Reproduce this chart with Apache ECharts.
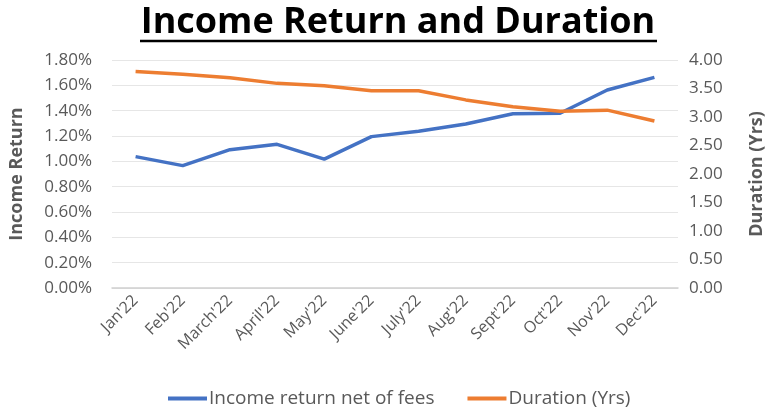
<!DOCTYPE html>
<html>
<head>
<meta charset="utf-8">
<script src="https://cdn.jsdelivr.net/npm/echarts@6/dist/echarts.min.js"></script>
<style>
    html, body { margin: 0; padding: 0; background: #fff; }
    #main { width: 774px; height: 409px; }
</style>
</head>
<body>
<div id="main"></div>
<script>
    // 数据
    var months = ["Jan'22", "Feb'22", "March'22", "April'22", "May'22", "June'22",
        "July'22", "Aug'22", "Sept'22", "Oct'22", "Nov'22", "Dec'22"];
    var incomeReturn = [1.037, 0.966, 1.092, 1.134, 1.018, 1.195, 1.237, 1.295, 1.376, 1.380, 1.563, 1.663];
    var duration = [3.80, 3.75, 3.69, 3.59, 3.55, 3.46, 3.46, 3.30, 3.18, 3.10, 3.12, 2.93];
    var leftTicks = { min: 0, max: 1.8, interval: 0.2 };
    var rightTicks = { min: 0, max: 4, interval: 0.5 };

    var font = 'Open Sans';
    var gray = '#595959';

    var myChart = echarts.init(document.getElementById('main'));
    var option = {
        backgroundColor: '#fff',
        animation: false,
        graphic: [
            {
                type: 'text',
                style: {
                    x: 398,
                    y: 23,
                    text: 'Income Return and Duration',
                    font: 'bold 36px "Open Sans"',
                    textAlign: 'center',
                    textVerticalAlign: 'middle',
                    fill: '#000'
                }
            },
            {
                // 标题下划线
                type: 'line',
                shape: { x1: 140, y1: 41, x2: 657, y2: 41 },
                style: { stroke: '#000', lineWidth: 2.5 }
            }
        ],
        grid: {
            left: 111,
            right: 90,
            top: 60,
            bottom: 121
        },
        legend: {
            top: 384,
            left: 163,
            itemWidth: 39,
            itemHeight: 4,
            itemGap: 33,
            icon: 'rect',
            textStyle: { color: gray, fontFamily: font, fontSize: 19, padding: [0, 0, 0, -3] },
            data: ['Income return net of fees', 'Duration (Yrs)']
        },
        xAxis: {
            type: 'category',
            data: months,
            boundaryGap: true,
            axisTick: { show: false },
            axisLine: { lineStyle: { color: '#d0d0d0', width: 1.5 } },
            axisLabel: {
                rotate: 45,
                interval: 0,
                color: gray,
                fontFamily: font,
                fontSize: 16,
                margin: 10
            }
        },
        yAxis: [
            {
                type: 'value',
                min: leftTicks.min,
                max: leftTicks.max,
                interval: leftTicks.interval,
                name: 'Income Return',
                nameLocation: 'middle',
                nameRotate: 90,
                nameGap: 86,
                nameTextStyle: { color: gray, fontFamily: font, fontSize: 18, fontWeight: 'bold' },
                axisLine: { show: false },
                axisTick: { show: false },
                axisLabel: {
                    color: gray,
                    fontFamily: font,
                    fontSize: 17,
                    margin: 20,
                    formatter: function (v) { return v.toFixed(2) + '%'; }
                },
                splitLine: { lineStyle: { color: '#e6e6e6', width: 1.2 } }
            },
            {
                type: 'value',
                min: rightTicks.min,
                max: rightTicks.max,
                interval: rightTicks.interval,
                name: 'Duration (Yrs)',
                nameLocation: 'middle',
                nameRotate: 90,
                nameGap: 70,
                nameTextStyle: { color: gray, fontFamily: font, fontSize: 18, fontWeight: 'bold' },
                axisLine: { show: false },
                axisTick: { show: false },
                axisLabel: {
                    color: gray,
                    fontFamily: font,
                    fontSize: 17,
                    margin: 11,
                    formatter: function (v) { return v.toFixed(2); }
                },
                splitLine: { show: false }
            }
        ],
        series: [
            {
                name: 'Income return net of fees',
                type: 'line',
                yAxisIndex: 0,
                data: incomeReturn,
                symbol: 'none',
                lineStyle: { color: '#4472C4', width: 3.5 },
                itemStyle: { color: '#4472C4' }
            },
            {
                name: 'Duration (Yrs)',
                type: 'line',
                yAxisIndex: 1,
                data: duration,
                symbol: 'none',
                lineStyle: { color: '#ED7D31', width: 3.5 },
                itemStyle: { color: '#ED7D31' }
            }
        ]
    };
    myChart.setOption(option);
</script>
</body>
</html>
